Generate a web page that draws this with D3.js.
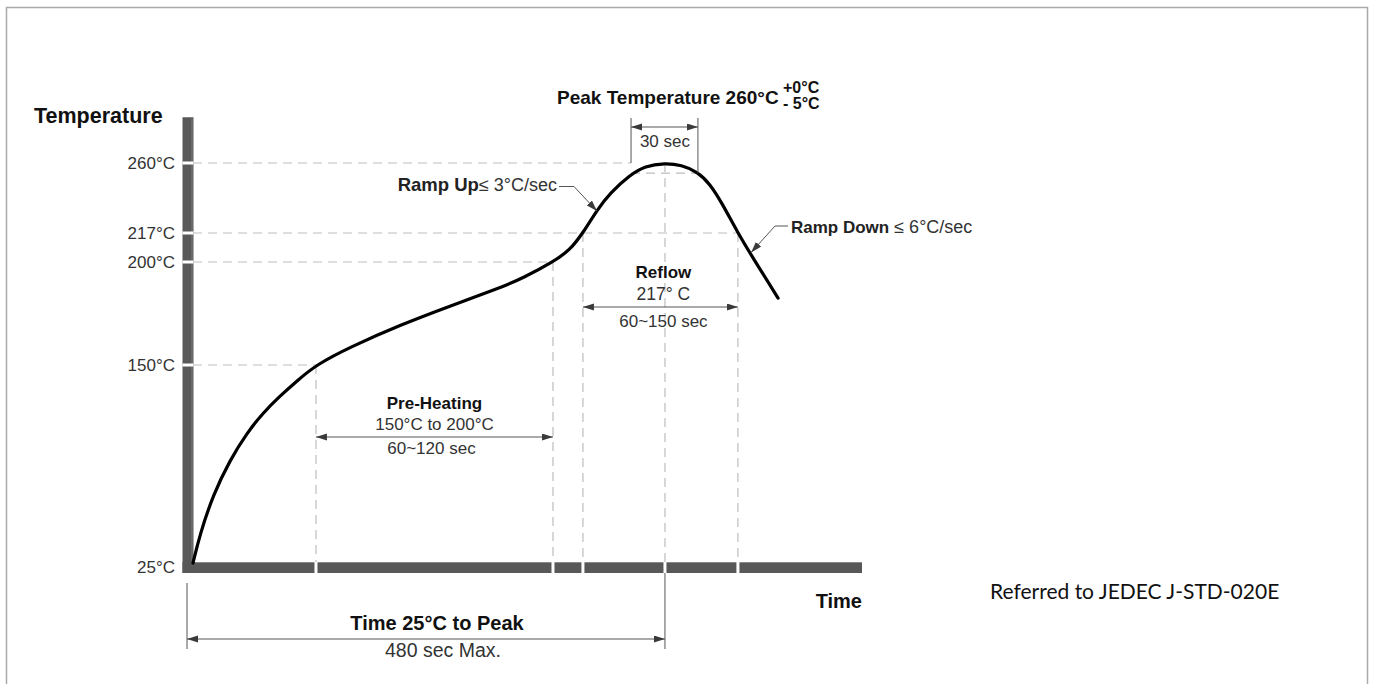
<!DOCTYPE html>
<html><head><meta charset="utf-8">
<script src="https://cdn.jsdelivr.net/npm/d3@7"></script>
<style>
html,body{margin:0;padding:0;background:#fff;}
svg text{font-family:"Liberation Sans",Arial,sans-serif;}
</style></head><body>
<svg id="chart" width="1375" height="684"></svg>
<script>
// Solder reflow profile (schematic): time in seconds, temperature in °C
const profileTime = [0, 4.4, 12.6, 23.2, 33.9, 43.9, 54.6, 65.9, 77.2, 98.6, 130.0, 161.3, 192.7, 207.2, 226.0, 236.7, 244.8, 253.6, 261.8, 274.3, 283.7, 296.3, 306.6, 317.0, 324.6, 332.1, 342.1, 351.6, 367.3];
const profileTemp = [25, 43.3, 67.9, 90.0, 107.1, 119.7, 130.4, 140.5, 150, 158.7, 169.4, 178.6, 187.4, 192.2, 200, 207.0, 217, 231.1, 241.6, 252.6, 258.2, 260, 258.8, 254.5, 247.1, 235.4, 217, 202.3, 182.5];

// Temperature axis ticks
const tempTicks = [25, 150, 200, 217, 260];
const tempTickLabels = ["25°C", "150°C", "200°C", "217°C", "260°C"];

// Time marks: pre-heat start/end, reflow start, peak, reflow end
const preheatStart = 77.2, preheatEnd = 226.0;
const reflowStart = 244.8, peakTime = 296.3, reflowEnd = 342.1;
const timeMarks = [preheatStart, preheatEnd, reflowStart, peakTime, reflowEnd];
const peakWindow = [275, 317];      // 30 sec window around the peak
const peakTemp = 260, peakLow = 255, liquidus = 217, soakLow = 150, soakHigh = 200;
const rampUpAt = [253.6, 230.5];
const rampDownAt = [351.0, 205];

const svg = d3.select("#chart");
const x = d3.scaleLinear().domain([0, 420]).range([193, 862]);
// Schematic (non-uniform) temperature axis
const y = d3.scaleLinear().domain([25, 150, 200, 217, 260, 290]).range([563, 365, 262, 233, 163, 114]);

const defs = svg.append("defs");
defs.append("marker").attr("id", "arr")
  .attr("markerUnits", "userSpaceOnUse")
  .attr("markerWidth", 12).attr("markerHeight", 8)
  .attr("refX", 11).attr("refY", 3.5)
  .attr("orient", "auto-start-reverse")
  .append("path").attr("d", "M0,0 L11,3.5 L0,7 Z").attr("fill", "#3a3a3a");

// outer frame
svg.append("rect").attr("x", 6.5).attr("y", 7.5).attr("width", 1361).attr("height", 720)
  .attr("fill", "none").attr("stroke", "#aaa").attr("stroke-width", 1.5);

const dash = "9,6";
const guide = svg.append("g").attr("stroke", "#bdbdbd").attr("stroke-width", 1.2)
  .attr("stroke-dasharray", dash).attr("fill", "none");

// horizontal guides
guide.append("line").attr("x1", x(0)).attr("x2", x(peakWindow[0])).attr("y1", y(peakTemp)).attr("y2", y(peakTemp));
guide.append("line").attr("x1", x(peakWindow[0])).attr("x2", x(peakWindow[1])).attr("y1", y(peakLow) + 2).attr("y2", y(peakLow) + 2);
guide.append("line").attr("x1", x(0)).attr("x2", x(reflowEnd)).attr("y1", y(liquidus)).attr("y2", y(liquidus));
guide.append("line").attr("x1", x(0)).attr("x2", x(preheatEnd)).attr("y1", y(soakHigh)).attr("y2", y(soakHigh));
guide.append("line").attr("x1", x(0)).attr("x2", x(preheatStart)).attr("y1", y(soakLow)).attr("y2", y(soakLow));

// vertical guides
[[preheatStart, soakLow], [preheatEnd, soakHigh], [reflowStart, liquidus], [peakTime, peakTemp], [reflowEnd, liquidus]]
  .forEach(([t, c]) => {
    guide.append("line").attr("x1", x(t)).attr("x2", x(t)).attr("y1", y(c)).attr("y2", y(25));
  });

// axis bars
const barColor = "#585858";
svg.append("rect").attr("x", x(0) - 10.5).attr("y", y(288)).attr("width", 11).attr("height", y(25) + 10 - y(288)).attr("fill", barColor);
svg.append("rect").attr("x", x(0) - 10.5).attr("y", y(25) - 1).attr("width", x(420) - x(0) + 10.5).attr("height", 11).attr("fill", barColor);
svg.append("line").attr("x1", x(0) - 1).attr("x2", x(0) - 1).attr("y1", y(288)).attr("y2", y(25)).attr("stroke", "#7a7a7a").attr("stroke-width", 1);
svg.append("line").attr("x1", x(0)).attr("x2", x(420)).attr("y1", y(25) - 0.5).attr("y2", y(25) - 0.5).attr("stroke", "#8a8a8a").attr("stroke-width", 1);

// tick gaps in the bars
tempTicks.filter(d => d !== 25).forEach(t => {
  svg.append("rect").attr("x", x(0) - 10.5).attr("y", y(t) - 1.5).attr("width", 11).attr("height", 3).attr("fill", "#fff");
});
timeMarks.forEach(t => {
  svg.append("rect").attr("x", x(t) - 1.5).attr("y", y(25) - 1).attr("width", 3).attr("height", 11).attr("fill", "#fff");
});

// tick labels
svg.append("g").selectAll("text").data(tempTicks).join("text")
  .attr("x", x(0) - 18)
  .attr("y", d => d === 25 ? y(25) + 10 : y(d) + 6)
  .attr("text-anchor", "end").attr("font-size", 17).attr("fill", "#333")
  .text((d, i) => tempTickLabels[i]);

// axis titles
svg.append("text").attr("x", 34).attr("y", 123).attr("font-size", 21.5).attr("font-weight", "bold").attr("fill", "#111").text("Temperature");
svg.append("text").attr("x", x(420)).attr("y", 608).attr("text-anchor", "end").attr("font-size", 20).attr("font-weight", "bold").attr("fill", "#111").text("Time");

// profile curve
const pts = profileTime.map((t, i) => [t, profileTemp[i]]);
svg.append("path").datum(pts)
  .attr("d", d3.line().x(d => x(d[0])).y(d => y(d[1])).curve(d3.curveBasis))
  .attr("fill", "none").attr("stroke", "#000").attr("stroke-width", 3.2).attr("stroke-linecap", "round");

const dim = svg.append("g").attr("stroke", "#555").attr("stroke-width", 1).attr("fill", "none");

// 30 sec window
const wTop = y(peakTemp) - 45;
dim.append("line").attr("x1", x(peakWindow[0])).attr("x2", x(peakWindow[0])).attr("y1", wTop).attr("y2", y(peakTemp));
dim.append("line").attr("x1", x(peakWindow[1])).attr("x2", x(peakWindow[1])).attr("y1", wTop).attr("y2", y(peakLow) + 2);
dim.append("line").attr("x1", x(peakWindow[0])).attr("x2", x(peakWindow[1])).attr("y1", y(peakTemp) - 36).attr("y2", y(peakTemp) - 36)
  .attr("marker-start", "url(#arr)").attr("marker-end", "url(#arr)");
svg.append("text").attr("x", x(peakTime)).attr("y", y(peakTemp) - 16).attr("text-anchor", "middle")
  .attr("font-size", 17).attr("fill", "#333").text("30 sec");

// peak label
svg.append("text").attr("x", 557).attr("y", 104).attr("font-size", 19).attr("font-weight", "bold").attr("fill", "#111").text("Peak Temperature 260°C");
svg.append("text").attr("x", 783).attr("y", 93).attr("font-size", 16).attr("font-weight", "bold").attr("fill", "#111").text("+0°C");
svg.append("text").attr("x", 783).attr("y", 109).attr("font-size", 16).attr("font-weight", "bold").attr("fill", "#111").text("- 5°C");

// ramp up leader
const ruText = svg.append("text").attr("x", 557).attr("y", 191).attr("text-anchor", "end").attr("fill", "#222");
ruText.append("tspan").attr("font-size", 18.5).attr("font-weight", "bold").text("Ramp Up");
ruText.append("tspan").attr("font-size", 18).attr("fill", "#333").text("≤ 3°C/sec");
dim.append("polyline").attr("points", [[559, 186.5], [574, 186.5], [x(rampUpAt[0]), y(rampUpAt[1])]].map(p => p.join(",")).join(" "))
  .attr("marker-end", "url(#arr)");

// ramp down leader
const rdText = svg.append("text").attr("x", 791).attr("y", 233).attr("fill", "#222");
rdText.append("tspan").attr("font-size", 17).attr("font-weight", "bold").text("Ramp Down");
rdText.append("tspan").attr("font-size", 18).attr("fill", "#333").text(" ≤ 6°C/sec");
dim.append("polyline").attr("points", [[788, 226], [775, 226], [x(rampDownAt[0]) - 1, y(rampDownAt[1]) - 1]].map(p => p.join(",")).join(" "))
  .attr("marker-end", "url(#arr)");

// reflow dimension
const rMid = (x(reflowStart) + x(reflowEnd)) / 2 + 3;
svg.append("text").attr("x", rMid).attr("y", 278).attr("text-anchor", "middle").attr("font-size", 17).attr("font-weight", "bold").attr("fill", "#111").text("Reflow");
svg.append("text").attr("x", rMid).attr("y", 300).attr("text-anchor", "middle").attr("font-size", 17.5).attr("fill", "#333").text("217° C");
dim.append("line").attr("x1", x(reflowStart)).attr("x2", x(reflowEnd)).attr("y1", 307).attr("y2", 307)
  .attr("marker-start", "url(#arr)").attr("marker-end", "url(#arr)");
svg.append("text").attr("x", rMid).attr("y", 327).attr("text-anchor", "middle").attr("font-size", 17).attr("fill", "#333").text("60~150 sec");

// pre-heating dimension
const pMid = (x(preheatStart) + x(preheatEnd)) / 2;
svg.append("text").attr("x", pMid).attr("y", 409).attr("text-anchor", "middle").attr("font-size", 17).attr("font-weight", "bold").attr("fill", "#111").text("Pre-Heating");
svg.append("text").attr("x", pMid).attr("y", 430).attr("text-anchor", "middle").attr("font-size", 17).attr("fill", "#333").text("150°C to 200°C");
dim.append("line").attr("x1", x(preheatStart)).attr("x2", x(preheatEnd)).attr("y1", 437).attr("y2", 437)
  .attr("marker-start", "url(#arr)").attr("marker-end", "url(#arr)");
svg.append("text").attr("x", pMid - 3).attr("y", 454).attr("text-anchor", "middle").attr("font-size", 17).attr("fill", "#333").text("60~120 sec");

// time 25°C to peak dimension
const bx0 = x(0) - 6;
dim.append("line").attr("x1", bx0).attr("x2", bx0).attr("y1", 583).attr("y2", 649);
dim.append("line").attr("x1", x(peakTime)).attr("x2", x(peakTime)).attr("y1", y(25) + 10).attr("y2", 649);
dim.append("line").attr("x1", bx0).attr("x2", x(peakTime)).attr("y1", 639).attr("y2", 639)
  .attr("marker-start", "url(#arr)").attr("marker-end", "url(#arr)");
svg.append("text").attr("x", 437).attr("y", 630).attr("text-anchor", "middle").attr("font-size", 20).attr("font-weight", "bold").attr("fill", "#111").text("Time 25°C to Peak");
svg.append("text").attr("x", 443).attr("y", 657).attr("text-anchor", "middle").attr("font-size", 19.5).attr("fill", "#333").text("480 sec Max.");

// reference note
svg.append("text").attr("x", 990).attr("y", 599).attr("font-size", 21).attr("fill", "#111")
  .style("font-family", "Lato, 'Open Sans', sans-serif").text("Referred to JEDEC J-STD-020E");
</script>
</body></html>
